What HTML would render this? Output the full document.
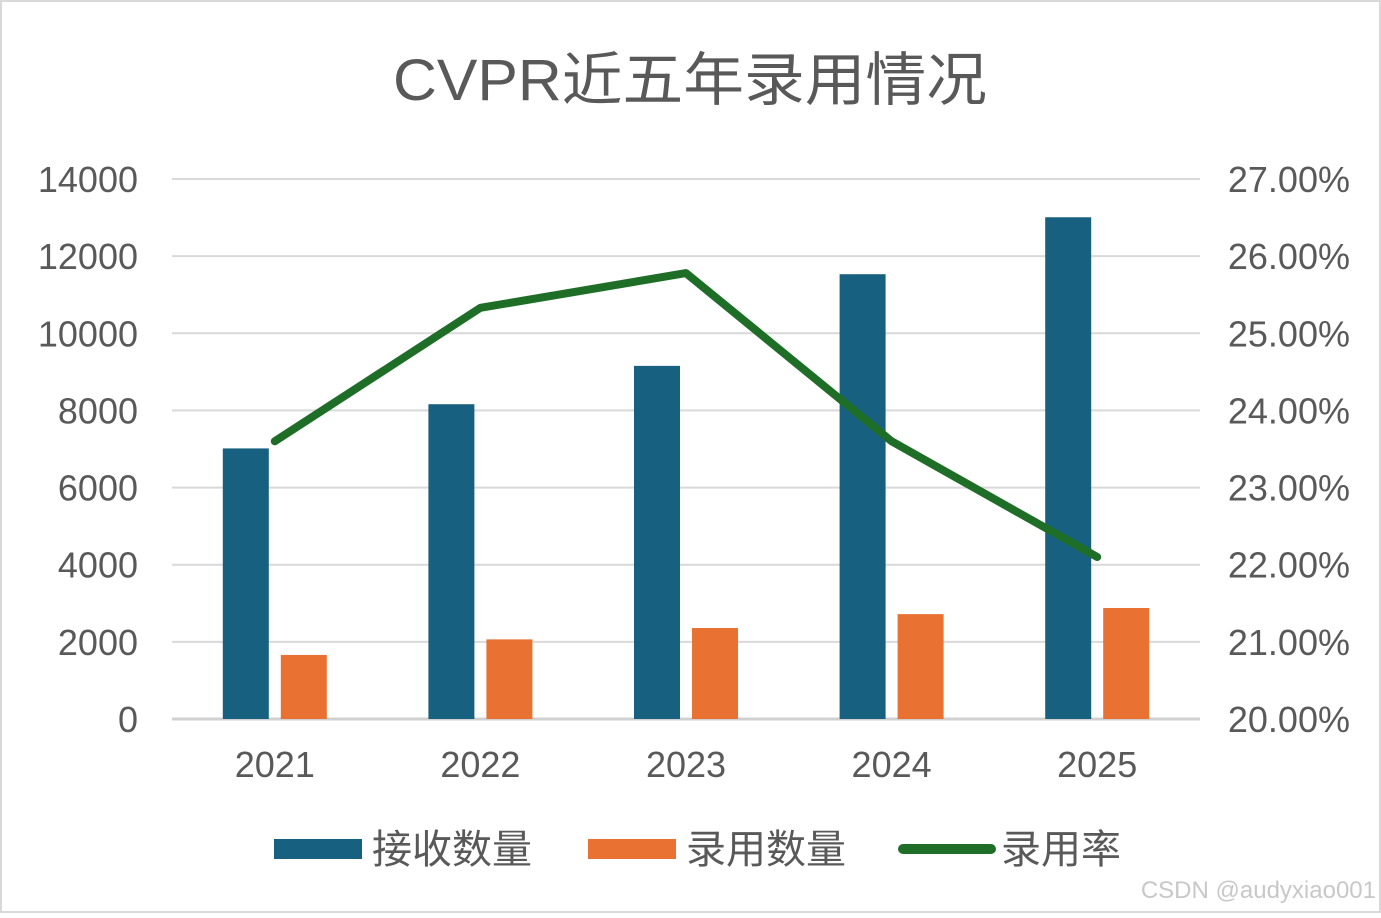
<!DOCTYPE html>
<html><head><meta charset="utf-8">
<style>
html,body{margin:0;padding:0;background:#fff;}
body{width:1381px;height:913px;overflow:hidden;}
svg text{font-family:"Liberation Sans","Noto Sans CJK SC",sans-serif;}
</style></head>
<body>
<svg id="chart" width="1381" height="913" xmlns="http://www.w3.org/2000/svg">
<rect x="1" y="1" width="1379" height="911" fill="#fff" stroke="#d9d9d9" stroke-width="2"/>
<text x="393" y="100" textLength="594" lengthAdjust="spacingAndGlyphs" font-size="58" fill="#595959">CVPR近五年录用情况</text>
<g id="grid"></g>
<g id="bars"></g>
<g id="line"></g>
<g id="labels"></g>
<g>
<rect x="274" y="839" width="88" height="20" fill="#17607f"/>
<text x="372" y="863" font-size="40" fill="#595959">接收数量</text>
<rect x="588" y="839" width="88" height="20" fill="#e97132"/>
<text x="686" y="863" font-size="40" fill="#595959">录用数量</text>
<line x1="903" y1="849" x2="991" y2="849" stroke="#1e6e28" stroke-width="10" stroke-linecap="round"/>
<text x="1001" y="863" font-size="40" fill="#595959">录用率</text>
</g>
<text x="1376" y="898" text-anchor="end" font-size="24" fill="#c8c8c8">CSDN @audyxiao001</text>
</svg>
<script>
const categories = ["2021","2022","2023","2024","2025"];
const submissions = [7015, 8161, 9155, 11532, 13008];
const accepted = [1660, 2064, 2359, 2719, 2878];
const rates = [23.6, 25.33, 25.78, 23.6, 22.1];
const leftTicks = [0,2000,4000,6000,8000,10000,12000,14000];
const rightTicks = [20,21,22,23,24,25,26,27];

const NS="http://www.w3.org/2000/svg";
const plotL=172, plotR=1200, y0=719, yTop=179;
const yL=v=>y0-(v/14000)*(y0-yTop);
const yR=v=>y0-((v-20)/7)*(y0-yTop);
const band=(plotR-plotL)/categories.length;
const xC=i=>plotL+band*(i+0.5);
function mk(tag,attrs,parent){const e=document.createElementNS(NS,tag);for(const k in attrs)e.setAttribute(k,attrs[k]);parent.appendChild(e);return e;}
const grid=document.getElementById('grid'),bars=document.getElementById('bars'),line=document.getElementById('line'),labels=document.getElementById('labels');
leftTicks.forEach((t,i)=>{
  const g=mk('line',{x1:plotL,x2:plotR,y1:yL(t),y2:yL(t),stroke:i===0?'#d0d0d0':'#d9d9d9','stroke-width':i===0?3:2},grid);
  
  
  const tx=mk('text',{x:138,y:yL(t)+13,'text-anchor':'end','font-size':36,fill:'#595959'},labels);
  tx.textContent=t;
  
  
});
rightTicks.forEach(t=>{
  const tx=mk('text',{x:1350,y:yR(t)+13,'text-anchor':'end','font-size':36,fill:'#595959'},labels);
  tx.textContent=t.toFixed(2)+'%';
  
  
});
categories.forEach((c,i)=>{
  const b1=mk('rect',{x:xC(i)-52,y:yL(submissions[i]),width:46,height:y0-yL(submissions[i]),fill:'#17607f'},bars);
  
  
  const b2=mk('rect',{x:xC(i)+6,y:yL(accepted[i]),width:46,height:y0-yL(accepted[i]),fill:'#e97132'},bars);
  
  
  const tx=mk('text',{x:xC(i),y:777,'text-anchor':'middle','font-size':36,fill:'#595959'},labels);
  tx.textContent=c;
  
  
});
const pts=rates.map((r,i)=>xC(i)+','+yR(r)).join(' ');
const pl=mk('polyline',{points:pts,fill:'none',stroke:'#1e6e28','stroke-width':8,'stroke-linejoin':'round','stroke-linecap':'round'},line);


</script>
</body></html>
